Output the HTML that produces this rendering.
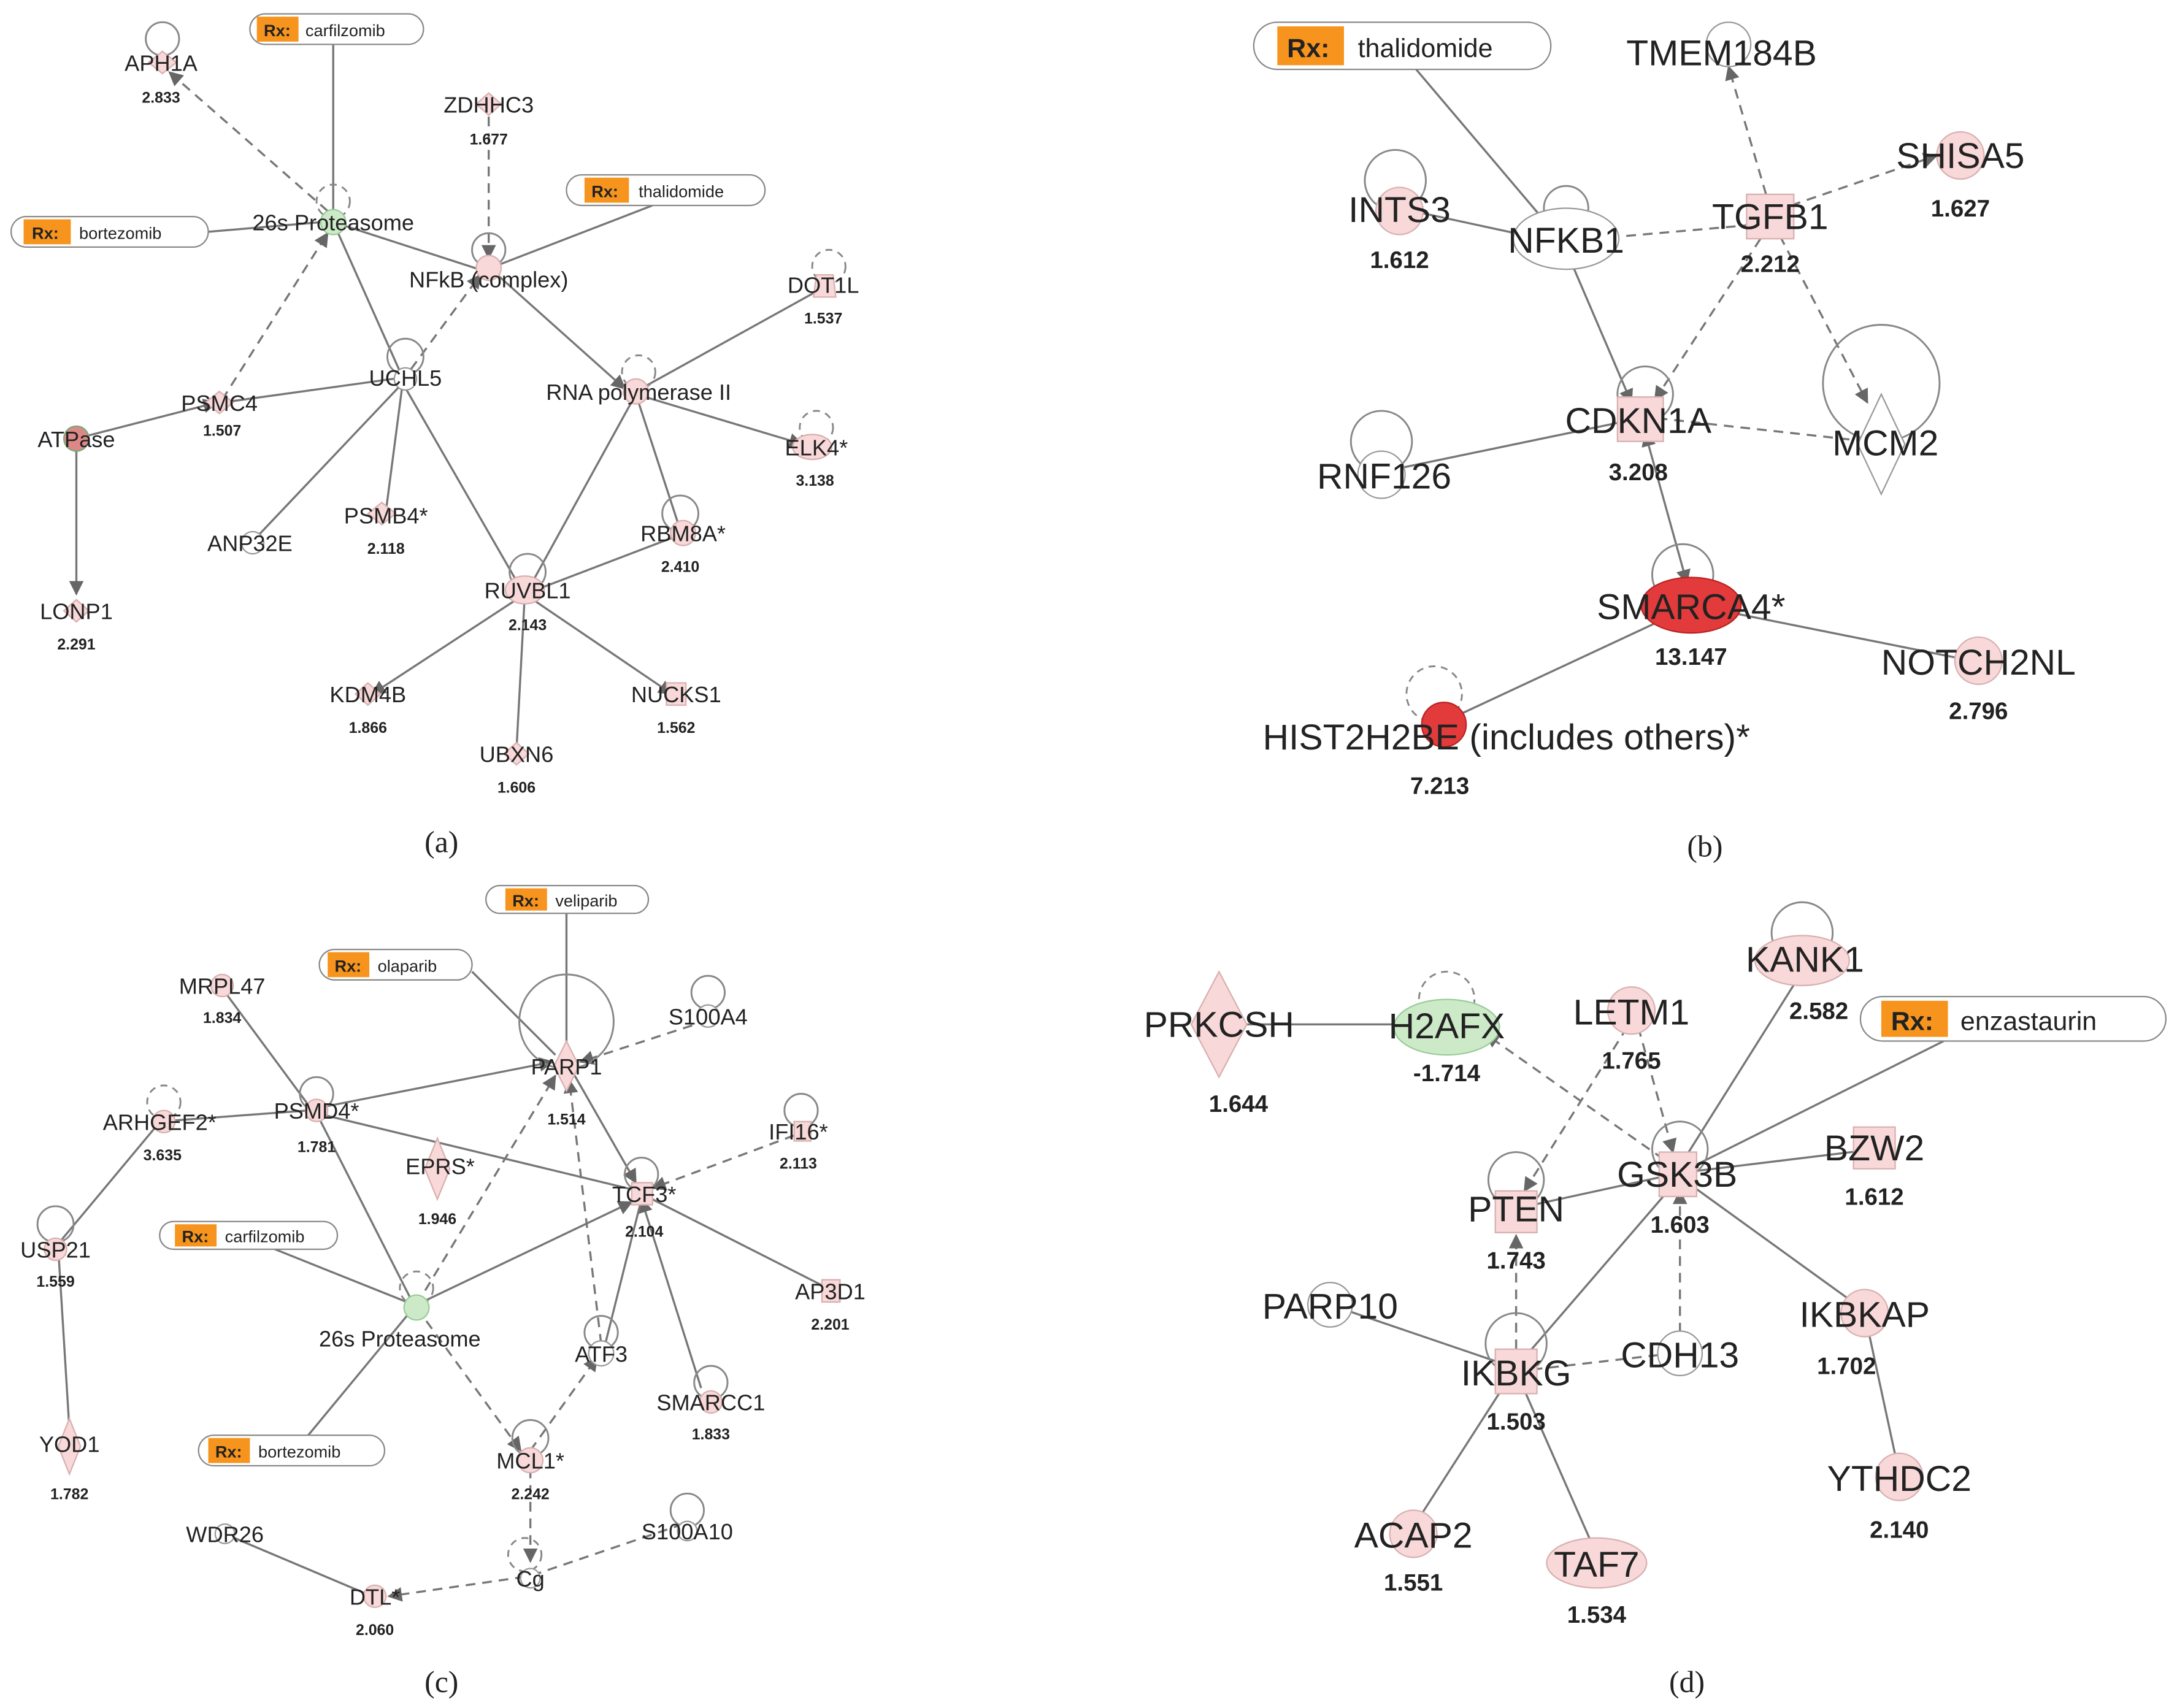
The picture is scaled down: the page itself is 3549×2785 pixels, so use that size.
<!DOCTYPE html>
<html><head><meta charset="utf-8"><style>
html,body{margin:0;padding:0;background:#fff}
svg{display:block}
text{font-family:"Liberation Sans",sans-serif;fill:#222}
.s{font-size:16px}.v{font-size:11px;font-weight:bold}
.L{font-size:26px}.V{font-size:17px;font-weight:bold}
.e{stroke:#777;stroke-width:1.5;fill:none}
.d{stroke:#777;stroke-width:1.5;fill:none;stroke-dasharray:7 5}
.n{fill:#f8d8d8;stroke:#d9b0b0;stroke-width:1}
.w{fill:#fff;stroke:#999;stroke-width:1}
.g{fill:#cdeac8;stroke:#9c9;stroke-width:1}
.r{fill:#e33b3b;stroke:#b22;stroke-width:1}
.lp{stroke:#888;stroke-width:1.3;fill:none}
.ld{stroke:#888;stroke-width:1.3;fill:none;stroke-dasharray:5 4}
.rx{fill:#fff;stroke:#888;stroke-width:1}
.ro{fill:#f7941d}
.cap{font-family:"Liberation Serif",serif;font-size:22px}
</style></head><body>
<svg width="3549" height="2785" viewBox="0 0 1568 1230.5" preserveAspectRatio="none" xmlns="http://www.w3.org/2000/svg">
<defs><marker id="a" viewBox="0 0 10 10" refX="9" refY="5" markerWidth="7" markerHeight="7" orient="auto-start-reverse"><path d="M0,0L10,5L0,10z" fill="#666"/></marker></defs>

<!-- ===== Panel (a) ===== -->
<g>
<line class="e" x1="240" y1="32" x2="240" y2="152"/>
<line class="e" x1="150" y1="167" x2="232" y2="160"/>
<line class="d" x1="236" y1="152" x2="122" y2="52" marker-end="url(#a)"/>
<line class="e" x1="240" y1="160" x2="345" y2="194"/>
<line class="e" x1="240" y1="160" x2="290" y2="272"/>
<line class="d" x1="160" y1="288" x2="236" y2="168" marker-end="url(#a)"/>
<line class="d" x1="352" y1="84" x2="352" y2="186" marker-end="url(#a)"/>
<line class="e" x1="470" y1="148" x2="356" y2="192"/>
<line class="d" x1="296" y1="266" x2="346" y2="198" marker-end="url(#a)"/>
<line class="e" x1="356" y1="196" x2="450" y2="280" marker-end="url(#a)"/>
<line class="e" x1="588" y1="210" x2="458" y2="282"/>
<line class="e" x1="458" y1="284" x2="578" y2="320" marker-end="url(#a)"/>
<line class="e" x1="458" y1="284" x2="490" y2="382"/>
<line class="e" x1="458" y1="284" x2="382" y2="422"/>
<line class="e" x1="55" y1="316" x2="156" y2="290" marker-end="url(#a)"/>
<line class="e" x1="55" y1="316" x2="55" y2="428" marker-end="url(#a)"/>
<line class="e" x1="160" y1="290" x2="290" y2="272"/>
<line class="e" x1="290" y1="276" x2="182" y2="390"/>
<line class="e" x1="290" y1="276" x2="278" y2="368"/>
<line class="e" x1="290" y1="276" x2="374" y2="422"/>
<line class="e" x1="378" y1="428" x2="488" y2="386"/>
<line class="e" x1="378" y1="428" x2="268" y2="500" marker-end="url(#a)"/>
<line class="e" x1="378" y1="428" x2="372" y2="540"/>
<line class="e" x1="378" y1="428" x2="484" y2="500" marker-end="url(#a)"/>
<!-- loops -->
<circle class="lp" cx="117" cy="28" r="12"/>
<circle class="ld" cx="240" cy="145" r="12"/>
<circle class="lp" cx="352" cy="180" r="12"/>
<circle class="ld" cx="597" cy="192" r="12"/>
<circle class="lp" cx="292" cy="257" r="13"/>
<circle class="ld" cx="460" cy="268" r="12"/>
<circle class="ld" cx="588" cy="308" r="12"/>
<circle class="lp" cx="490" cy="370" r="13"/>
<circle class="lp" cx="380" cy="412" r="13"/>
<!-- nodes -->
<path class="n" d="M117,37L127,45L117,53L107,45z"/>
<circle class="g" cx="240" cy="160" r="9"/>
<path class="n" d="M352,67L361,75L352,83L343,75z"/>
<circle class="n" cx="352" cy="193" r="9"/>
<path class="n" d="M588,198L600,198L602,214L586,214z"/>
<circle class="w" cx="292" cy="273" r="8"/>
<circle class="n" cx="458" cy="282" r="9"/>
<path class="n" d="M158,282L168,290L158,298L148,290z"/>
<circle cx="55" cy="316" r="9" fill="#d88" stroke="#7a7"/>
<ellipse class="n" cx="585" cy="322" rx="14" ry="9"/>
<circle class="w" cx="182" cy="391" r="8"/>
<path class="n" d="M275,362L285,370L275,378L265,370z"/>
<circle class="n" cx="492" cy="384" r="9"/>
<path class="n" d="M55,432L64,440L55,448L46,440z"/>
<ellipse class="n" cx="378" cy="425" rx="14" ry="10"/>
<path class="n" d="M265,492L274,500L265,508L256,500z"/>
<path class="n" d="M480,492L494,492L494,508L480,508z"/>
<path class="n" d="M372,535L381,543L372,551L363,543z"/>
<!-- drug boxes -->
<rect class="rx" x="180" y="10" width="125" height="22" rx="11"/><rect class="ro" x="185" y="12" width="30" height="18"/>
<text x="190" y="26" style="font-size:12px;font-weight:bold">Rx:</text><text x="220" y="26" style="font-size:12px">carfilzomib</text>
<rect class="rx" x="408" y="126" width="143" height="22" rx="11"/><rect class="ro" x="421" y="128" width="32" height="18"/>
<text x="426" y="142" style="font-size:12px;font-weight:bold">Rx:</text><text x="460" y="142" style="font-size:12px">thalidomide</text>
<rect class="rx" x="8" y="156" width="142" height="22" rx="11"/><rect class="ro" x="17" y="158" width="34" height="18"/>
<text x="23" y="172" style="font-size:12px;font-weight:bold">Rx:</text><text x="57" y="172" style="font-size:12px">bortezomib</text>
<!-- labels -->
<g class="s" text-anchor="middle">
<text x="116" y="51">APH1A</text><text x="352" y="81">ZDHHC3</text><text x="240" y="166">26s Proteasome</text>
<text x="352" y="207">NFkB (complex)</text><text x="593" y="211">DOT1L</text><text x="292" y="278">UCHL5</text>
<text x="460" y="288">RNA polymerase II</text><text x="158" y="296">PSMC4</text><text x="55" y="322">ATPase</text>
<text x="588" y="328">ELK4*</text><text x="180" y="397">ANP32E</text><text x="278" y="377">PSMB4*</text>
<text x="492" y="390">RBM8A*</text><text x="55" y="446">LONP1</text><text x="380" y="431">RUVBL1</text>
<text x="265" y="506">KDM4B</text><text x="487" y="506">NUCKS1</text><text x="372" y="549">UBXN6</text>
</g>
<g class="v" text-anchor="middle">
<text x="116" y="74">2.833</text><text x="352" y="104">1.677</text><text x="593" y="233">1.537</text>
<text x="160" y="314">1.507</text><text x="587" y="350">3.138</text><text x="278" y="399">2.118</text>
<text x="490" y="412">2.410</text><text x="55" y="468">2.291</text><text x="380" y="454">2.143</text>
<text x="265" y="528">1.866</text><text x="487" y="528">1.562</text><text x="372" y="571">1.606</text>
</g>
<text class="cap" x="318" y="614" text-anchor="middle">(a)</text>
</g>

<!-- ===== Panel (b) ===== -->
<g>
<line class="e" x1="1020" y1="50" x2="1120" y2="168" marker-end="url(#a)"/>
<line class="e" x1="1008" y1="150" x2="1110" y2="172"/>
<line class="d" x1="1262" y1="162" x2="1148" y2="172" marker-end="url(#a)"/>
<line class="d" x1="1272" y1="140" x2="1245" y2="48" marker-end="url(#a)"/>
<line class="d" x1="1290" y1="148" x2="1395" y2="112" marker-end="url(#a)"/>
<line class="d" x1="1282" y1="170" x2="1345" y2="290" marker-end="url(#a)"/>
<line class="d" x1="1268" y1="172" x2="1192" y2="288" marker-end="url(#a)"/>
<line class="e" x1="1130" y1="185" x2="1175" y2="290" marker-end="url(#a)"/>
<line class="d" x1="1182" y1="300" x2="1345" y2="318"/>
<line class="e" x1="995" y1="340" x2="1178" y2="302"/>
<line class="e" x1="1185" y1="312" x2="1215" y2="420" marker-start="url(#a)" marker-end="url(#a)"/>
<line class="e" x1="1220" y1="436" x2="1420" y2="476"/>
<line class="e" x1="1220" y1="436" x2="1040" y2="520"/>
<circle class="lp" cx="1005" cy="130" r="22"/>
<circle class="lp" cx="1128" cy="150" r="16"/>
<circle class="lp" cx="1185" cy="284" r="20"/>
<circle class="lp" cx="1355" cy="276" r="42"/>
<circle class="lp" cx="995" cy="318" r="22"/>
<circle class="lp" cx="1212" cy="414" r="22"/>
<circle class="ld" cx="1033" cy="500" r="20"/>
<!-- nodes -->
<circle class="w" cx="1245" cy="32" r="16"/>
<circle class="n" cx="1412" cy="112" r="17"/>
<circle class="n" cx="1008" cy="152" r="17"/>
<ellipse class="w" cx="1128" cy="172" rx="38" ry="22"/>
<path class="n" d="M1258,140L1292,140L1292,172L1258,172z"/>
<path class="n" d="M1165,286L1198,286L1198,318L1165,318z"/>
<path class="w" d="M1355,284L1372,320L1355,356L1338,320z"/>
<circle class="w" cx="995" cy="342" r="17"/>
<ellipse class="r" cx="1218" cy="436" rx="36" ry="20"/>
<circle class="n" cx="1425" cy="476" r="17"/>
<circle class="r" cx="1040" cy="522" r="16"/>
<rect class="rx" x="903" y="16" width="214" height="34" rx="17"/><rect class="ro" x="920" y="19" width="48" height="28"/>
<text x="927" y="41" style="font-size:19px;font-weight:bold">Rx:</text><text x="978" y="41" style="font-size:19px">thalidomide</text>
<g class="L" text-anchor="middle">
<text x="1240" y="47">TMEM184B</text><text x="1412" y="121">SHISA5</text><text x="1008" y="160">INTS3</text>
<text x="1128" y="182">NFKB1</text><text x="1275" y="165">TGFB1</text><text x="1180" y="312">CDKN1A</text>
<text x="1358" y="328">MCM2</text><text x="997" y="352">RNF126</text><text x="1218" y="446">SMARCA4*</text>
<text x="1425" y="486">NOTCH2NL</text><text x="1085" y="540">HIST2H2BE (includes others)*</text>
</g>
<g class="V" text-anchor="middle">
<text x="1412" y="156">1.627</text><text x="1008" y="193">1.612</text><text x="1275" y="196">2.212</text>
<text x="1180" y="346">3.208</text><text x="1218" y="479">13.147</text><text x="1425" y="518">2.796</text>
<text x="1037" y="572">7.213</text>
</g>
<text class="cap" x="1228" y="617" text-anchor="middle">(b)</text>
</g>

<!-- ===== Panel (c) ===== -->
<g>
<line class="e" x1="408" y1="658" x2="408" y2="755"/>
<line class="e" x1="340" y1="700" x2="400" y2="760"/>
<line class="e" x1="160" y1="712" x2="225" y2="800"/>
<line class="e" x1="115" y1="808" x2="222" y2="800"/>
<line class="e" x1="230" y1="798" x2="398" y2="765" marker-end="url(#a)"/>
<line class="e" x1="228" y1="802" x2="460" y2="858"/>
<line class="e" x1="228" y1="802" x2="298" y2="940"/>
<line class="d" x1="510" y1="735" x2="418" y2="765" marker-end="url(#a)"/>
<line class="e" x1="410" y1="768" x2="458" y2="852" marker-end="url(#a)"/>
<line class="d" x1="572" y1="818" x2="470" y2="856" marker-end="url(#a)"/>
<line class="e" x1="462" y1="860" x2="596" y2="928"/>
<line class="e" x1="462" y1="864" x2="505" y2="1000" marker-start="url(#a)"/>
<line class="e" x1="462" y1="864" x2="436" y2="968"/>
<line class="d" x1="433" y1="968" x2="410" y2="778" marker-end="url(#a)"/>
<line class="d" x1="300" y1="940" x2="400" y2="775" marker-end="url(#a)"/>
<line class="e" x1="300" y1="940" x2="455" y2="866" marker-end="url(#a)"/>
<line class="e" x1="198" y1="900" x2="298" y2="940"/>
<line class="e" x1="222" y1="1034" x2="298" y2="942"/>
<line class="d" x1="300" y1="942" x2="375" y2="1045" marker-end="url(#a)"/>
<line class="d" x1="382" y1="1045" x2="430" y2="978" marker-end="url(#a)"/>
<line class="d" x1="382" y1="1058" x2="382" y2="1125" marker-end="url(#a)"/>
<line class="e" x1="112" y1="812" x2="42" y2="896"/>
<line class="e" x1="42" y1="900" x2="50" y2="1030"/>
<line class="e" x1="164" y1="1106" x2="268" y2="1150"/>
<line class="d" x1="378" y1="1136" x2="280" y2="1150" marker-end="url(#a)"/>
<line class="d" x1="492" y1="1098" x2="386" y2="1134"/>
<circle class="lp" cx="408" cy="736" r="34"/>
<circle class="lp" cx="510" cy="715" r="12"/>
<circle class="ld" cx="118" cy="794" r="12"/>
<circle class="lp" cx="228" cy="788" r="12"/>
<circle class="lp" cx="577" cy="800" r="12"/>
<circle class="lp" cx="462" cy="846" r="12"/>
<circle class="lp" cx="40" cy="882" r="13"/>
<circle class="ld" cx="300" cy="928" r="12"/>
<circle class="lp" cx="433" cy="960" r="12"/>
<circle class="lp" cx="512" cy="996" r="12"/>
<circle class="lp" cx="382" cy="1036" r="13"/>
<circle class="lp" cx="495" cy="1088" r="12"/>
<circle class="ld" cx="378" cy="1120" r="12"/>
<!-- nodes -->
<circle class="n" cx="160" cy="710" r="8"/>
<circle class="w" cx="510" cy="732" r="8"/>
<path class="n" d="M408,750L417,768L408,786L399,768z"/>
<circle class="n" cx="118" cy="808" r="8"/>
<circle class="n" cx="228" cy="800" r="8"/>
<path class="n" d="M572,808L584,808L584,822L572,822z"/>
<path class="n" d="M315,820L324,842L315,864L306,842z"/>
<path class="n" d="M455,852L470,852L470,868L455,868z"/>
<circle class="n" cx="40" cy="900" r="8"/>
<path class="n" d="M592,922L605,922L605,938L592,938z"/>
<circle class="g" cx="300" cy="942" r="9"/>
<circle class="w" cx="433" cy="975" r="9"/>
<circle class="n" cx="512" cy="1010" r="8"/>
<path class="n" d="M50,1022L58,1042L50,1062L42,1042z"/>
<circle class="n" cx="382" cy="1052" r="9"/>
<circle class="w" cx="162" cy="1105" r="7"/>
<circle class="w" cx="495" cy="1103" r="7"/>
<circle class="w" cx="382" cy="1137" r="7"/>
<circle class="n" cx="270" cy="1150" r="8"/>
<rect class="rx" x="350" y="638" width="117" height="20" rx="10"/><rect class="ro" x="364" y="640" width="30" height="16"/>
<text x="369" y="653" style="font-size:12px;font-weight:bold">Rx:</text><text x="400" y="653" style="font-size:12px">veliparib</text>
<rect class="rx" x="230" y="684" width="110" height="22" rx="11"/><rect class="ro" x="236" y="686" width="30" height="18"/>
<text x="241" y="700" style="font-size:12px;font-weight:bold">Rx:</text><text x="272" y="700" style="font-size:12px">olaparib</text>
<rect class="rx" x="115" y="880" width="128" height="20" rx="10"/><rect class="ro" x="126" y="882" width="30" height="16"/>
<text x="131" y="895" style="font-size:12px;font-weight:bold">Rx:</text><text x="162" y="895" style="font-size:12px">carfilzomib</text>
<rect class="rx" x="143" y="1034" width="134" height="22" rx="11"/><rect class="ro" x="150" y="1036" width="30" height="18"/>
<text x="155" y="1050" style="font-size:12px;font-weight:bold">Rx:</text><text x="186" y="1050" style="font-size:12px">bortezomib</text>
<g class="s" text-anchor="middle">
<text x="160" y="716">MRPL47</text><text x="510" y="738">S100A4</text><text x="408" y="774">PARP1</text>
<text x="115" y="814">ARHGEF2*</text><text x="228" y="806">PSMD4*</text><text x="575" y="821">IFI16*</text>
<text x="317" y="846">EPRS*</text><text x="464" y="866">TCF3*</text><text x="40" y="906">USP21</text>
<text x="598" y="936">AP3D1</text><text x="288" y="970">26s Proteasome</text><text x="433" y="981">ATF3</text>
<text x="512" y="1016">SMARCC1</text><text x="50" y="1046">YOD1</text><text x="382" y="1058">MCL1*</text>
<text x="162" y="1111">WDR26</text><text x="495" y="1109">S100A10</text><text x="382" y="1143">Cg</text>
<text x="270" y="1156">DTL*</text>
</g>
<g class="v" text-anchor="middle">
<text x="160" y="737">1.834</text><text x="408" y="810">1.514</text><text x="117" y="836">3.635</text>
<text x="228" y="830">1.781</text><text x="575" y="842">2.113</text><text x="315" y="882">1.946</text>
<text x="464" y="891">2.104</text><text x="40" y="927">1.559</text><text x="598" y="958">2.201</text>
<text x="512" y="1037">1.833</text><text x="50" y="1080">1.782</text><text x="382" y="1080">2.242</text>
<text x="270" y="1178">2.060</text>
</g>
<text class="cap" x="318" y="1219" text-anchor="middle">(c)</text>
</g>

<!-- ===== Panel (d) ===== -->
<g>
<line class="e" x1="878" y1="738" x2="1015" y2="738"/>
<line class="d" x1="1198" y1="835" x2="1070" y2="745" marker-end="url(#a)"/>
<line class="d" x1="1172" y1="740" x2="1098" y2="858" marker-end="url(#a)"/>
<line class="d" x1="1180" y1="740" x2="1205" y2="830" marker-end="url(#a)"/>
<line class="e" x1="1298" y1="700" x2="1210" y2="840"/>
<line class="e" x1="1400" y1="750" x2="1210" y2="845"/>
<line class="e" x1="1210" y1="845" x2="1350" y2="828"/>
<line class="e" x1="1210" y1="845" x2="1095" y2="870"/>
<line class="e" x1="1210" y1="848" x2="1340" y2="942"/>
<line class="e" x1="1210" y1="848" x2="1092" y2="985"/>
<line class="d" x1="1210" y1="972" x2="1210" y2="858" marker-end="url(#a)"/>
<line class="d" x1="1092" y1="972" x2="1092" y2="890" marker-end="url(#a)"/>
<line class="d" x1="1092" y1="988" x2="1205" y2="975"/>
<line class="e" x1="958" y1="940" x2="1090" y2="985"/>
<line class="e" x1="1090" y1="988" x2="1018" y2="1100"/>
<line class="e" x1="1092" y1="988" x2="1150" y2="1120"/>
<line class="e" x1="1343" y1="946" x2="1368" y2="1062"/>
<circle class="ld" cx="1042" cy="720" r="20"/>
<circle class="lp" cx="1298" cy="672" r="22"/>
<circle class="lp" cx="1210" cy="828" r="20"/>
<circle class="lp" cx="1092" cy="850" r="20"/>
<circle class="lp" cx="1092" cy="968" r="22"/>
<!-- nodes -->
<path class="n" d="M878,700L898,738L878,776L858,738z"/>
<ellipse class="g" cx="1042" cy="740" rx="38" ry="20"/>
<circle class="n" cx="1175" cy="728" r="17"/>
<ellipse class="n" cx="1298" cy="692" rx="34" ry="18"/>
<path class="n" d="M1335,812L1365,812L1365,842L1335,842z"/>
<path class="n" d="M1195,830L1222,830L1222,862L1195,862z"/>
<path class="n" d="M1077,858L1107,858L1107,888L1077,888z"/>
<circle class="w" cx="958" cy="940" r="16"/>
<circle class="n" cx="1343" cy="946" r="17"/>
<circle class="w" cx="1210" cy="975" r="16"/>
<path class="n" d="M1077,972L1107,972L1107,1004L1077,1004z"/>
<circle class="n" cx="1368" cy="1064" r="17"/>
<circle class="n" cx="1018" cy="1105" r="17"/>
<ellipse class="n" cx="1150" cy="1126" rx="36" ry="18"/>
<rect class="rx" x="1340" y="718" width="220" height="32" rx="16"/><rect class="ro" x="1355" y="721" width="48" height="26"/>
<text x="1362" y="742" style="font-size:19px;font-weight:bold">Rx:</text><text x="1412" y="742" style="font-size:19px">enzastaurin</text>
<g class="L" text-anchor="middle">
<text x="878" y="747">PRKCSH</text><text x="1042" y="748">H2AFX</text><text x="1175" y="738">LETM1</text>
<text x="1300" y="700">KANK1</text><text x="1350" y="836">BZW2</text><text x="1208" y="855">GSK3B</text>
<text x="1092" y="880">PTEN</text><text x="958" y="950">PARP10</text><text x="1343" y="956">IKBKAP</text>
<text x="1210" y="985">CDH13</text><text x="1092" y="998">IKBKG</text><text x="1368" y="1074">YTHDC2</text>
<text x="1018" y="1115">ACAP2</text><text x="1150" y="1136">TAF7</text>
</g>
<g class="V" text-anchor="middle">
<text x="892" y="801">1.644</text><text x="1042" y="779">-1.714</text><text x="1175" y="770">1.765</text>
<text x="1310" y="734">2.582</text><text x="1350" y="868">1.612</text><text x="1210" y="888">1.603</text>
<text x="1092" y="914">1.743</text><text x="1330" y="990">1.702</text><text x="1092" y="1030">1.503</text>
<text x="1368" y="1108">2.140</text><text x="1018" y="1146">1.551</text><text x="1150" y="1169">1.534</text>
</g>
<text class="cap" x="1215" y="1219" text-anchor="middle">(d)</text>
</g>
</svg>
</body></html>
